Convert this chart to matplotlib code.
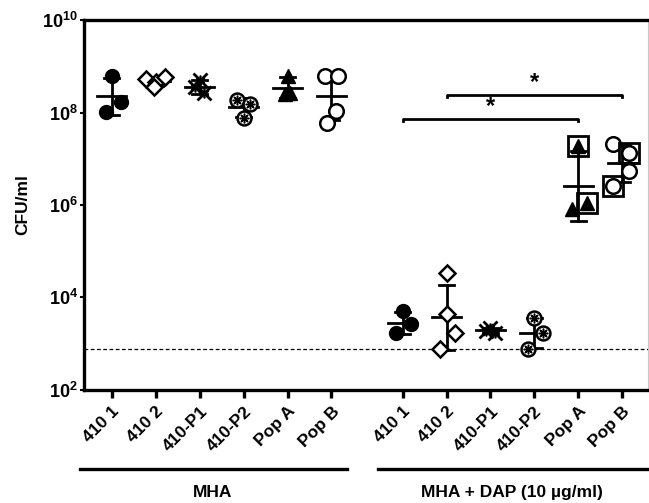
#!/usr/bin/python3

import matplotlib
matplotlib.use("Agg")
import matplotlib.pyplot as plt
import numpy as np

plt.rcParams['font.family'] = ['Liberation Sans', 'DejaVu Sans']
plt.rcParams['font.weight'] = 'bold'
plt.rcParams['mathtext.fontset'] = 'custom'
plt.rcParams['mathtext.rm'] = 'Liberation Sans'
plt.rcParams['mathtext.bf'] = 'Liberation Sans:bold'

# strains on each medium
strains = ["410 1", "410 2", "410-P1", "410-P2", "Pop A", "Pop B"]
media = ["MHA", "MHA + DAP (10 \u00b5g/ml)"]

# CFU/ml, one list per strain
mha_cfu = [
    [6.3e8, 1.7e8, 1.05e8],
    [5.2e8, 4.5e8, 6.0e8, 3.6e8],
    [5.0e8, 3.5e8, 2.6e8],
    [1.9e8, 1.5e8, 7.5e7],
    [6.3e8, 2.6e8, 2.5e8],
    [6.3e8, 6.3e8, 1.1e8, 6.0e7],
]
dap_cfu = [
    [5.0e3, 2.6e3, 1.7e3],
    [3.3e4, 4.3e3, 1.7e3, 7.8e2],
    [2.2e3, 1.9e3, 1.7e3],
    [3.5e3, 1.7e3, 7.8e2],
    [1.9e7, 1.1e6, 8.1e5],
    [2.1e7, 1.35e7, 5.5e6, 2.6e6],
]
# which DAP points are boxed (isolates picked for follow-up)
dap_boxed = [
    [0, 0, 0], [0, 0, 0, 0], [0, 0, 0], [0, 0, 0],
    [1, 1, 0],
    [0, 1, 0, 1],
]
detection_limit = 7.5e2
# significance brackets: (from strain idx, to strain idx, height)
brackets = [(0, 4, 7.4e7), (1, 5, 2.45e8)]

# horizontal scatter of the points (layout only)
mha_jit = [[0.0, 0.2, -0.14], [-0.22, 0.0, 0.22, -0.05], [0.0, -0.1, 0.1],
           [-0.15, 0.15, 0.0], [0.0, 0.05, -0.05], [-0.15, 0.15, 0.1, -0.1]]
dap_jit = [[0.0, 0.2, -0.15], [0.0, 0.0, 0.2, -0.15], [0.0, -0.1, 0.1],
           [0.0, 0.2, -0.15], [0.0, 0.2, -0.15], [-0.2, 0.15, 0.15, -0.2]]

x_mha = np.arange(6)
x_dap = np.arange(6) + 6.62


def draw_marker(ax, i, x, y, boxed=False):
    kw = dict(color='black', zorder=3, linestyle='none')
    if i == 0:
        ax.plot(x, y, marker='o', ms=10, mfc='black', mec='black', **kw)
    elif i == 1:
        ax.plot(x, y, marker='D', ms=8, mfc='white', mec='black', mew=1.8, **kw)
    elif i == 2:
        ax.plot(x, y, marker='x', ms=9.5, mew=2.0, **kw)
        ax.plot(x, y, marker=(6, 2, 0), ms=7, mew=1.2, **kw)
    elif i == 3:
        ax.plot(x, y, marker='o', ms=10, mfc='white', mec='black', mew=1.8, **kw)
        ax.plot(x, y, marker=(8, 2, 0), ms=7, mew=1.1, **kw)
    elif i == 4:
        ax.plot(x, y, marker='^', ms=10.5, mfc='black', mec='black', **kw)
    else:
        ax.plot(x, y, marker='o', ms=10.5, mfc='white', mec='black', mew=1.8, **kw)
    if boxed:
        ax.plot(x, y, marker='s', ms=14.5, mfc='none', mec='black', mew=2.0,
                color='black', zorder=4, linestyle='none')


def draw_group(ax, xs, data, jit, boxed=None):
    for i, (x0, vals) in enumerate(zip(xs, data)):
        logs = np.log10(vals)
        m = logs.mean()
        sd = logs.std(ddof=1)
        lo, hi = 10 ** (m - sd), 10 ** (m + sd)
        ax.plot([x0, x0], [lo, hi], color='black', lw=2, zorder=2)
        ax.plot([x0 - 0.17, x0 + 0.17], [lo, lo], color='black', lw=2, zorder=2)
        ax.plot([x0 - 0.17, x0 + 0.17], [hi, hi], color='black', lw=2, zorder=2)
        ax.plot([x0 - 0.33, x0 + 0.33], [10 ** m, 10 ** m], color='black', lw=2, zorder=2)
        for k, v in enumerate(vals):
            b = bool(boxed[i][k]) if boxed else False
            draw_marker(ax, i, x0 + jit[i][k], v, b)


fig = plt.figure(figsize=(6.49, 5.03), dpi=100)
ax = fig.add_axes([0.129, 0.225, 0.869, 0.735])

draw_group(ax, x_mha, mha_cfu, mha_jit)
draw_group(ax, x_dap, dap_cfu, dap_jit, dap_boxed)

ax.axhline(detection_limit, color='black', lw=0.9, ls=(0, (3, 2)), zorder=1)

# significance brackets
for a, b, h in brackets:
    xa, xb = x_dap[a], x_dap[b]
    ax.plot([xa, xa, xb, xb], [h / 1.12, h, h, h / 1.12], color='black', lw=2, clip_on=False)
    ax.text((xa + xb) / 2, h * 1.03, '*', ha='center', va='bottom',
            fontsize=17, fontweight='bold')

ax.set_yscale('log')
ax.set_ylim(1e2, 1e10)
ax.set_xlim(-0.64, 12.2)
ax.set_yticks([1e2, 1e4, 1e6, 1e8, 1e10])
ax.set_yticklabels([r'$\mathbf{10^{%d}}$' % p for p in (2, 4, 6, 8, 10)], fontsize=13)
ax.yaxis.set_minor_locator(matplotlib.ticker.NullLocator())
ax.set_ylabel('CFU/ml', fontsize=12.5, fontweight='bold', labelpad=9)

ax.set_xticks(np.concatenate([x_mha, x_dap]))
ax.set_xticklabels(strains + strains, rotation=45, ha='right', rotation_mode='anchor',
                   fontsize=12.5, fontweight='bold')
ax.tick_params(axis='x', length=6, width=2.4, pad=4)
ax.tick_params(axis='y', length=3, width=1.5, pad=1)

for side in ('left', 'bottom', 'top'):
    ax.spines[side].set_linewidth(2.4)
ax.spines['right'].set_color('#c8c8c8')
ax.spines['right'].set_linewidth(0.8)

# medium group lines and labels under the axis
trans = matplotlib.transforms.blended_transform_factory(ax.transData, ax.transAxes)
spans = [(-0.73, 5.36), (6.05, 12.2)]
label_x = [2.3, 9.1]
for (x1, x2), lx, name in zip(spans, label_x, media):
    ax.plot([x1, x2], [-0.215, -0.215], color='black', lw=2.4, transform=trans, clip_on=False)
    ax.text(lx, -0.258, name, transform=trans, ha='center',
            va='top', fontsize=12.5, fontweight='bold')

fig.savefig('out.png', dpi=100)
